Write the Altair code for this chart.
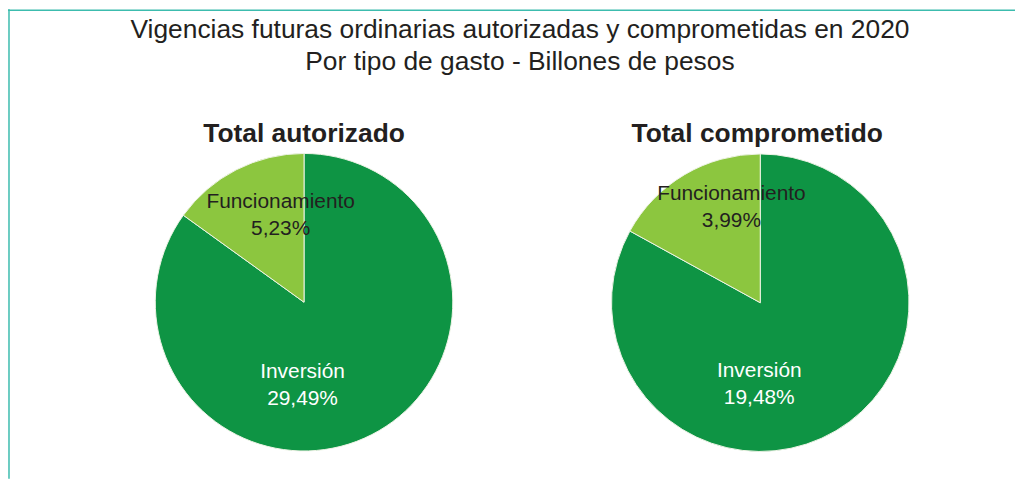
import altair as alt
import pandas as pd

# ---- data ----
paneles = ["Total autorizado", "Total autorizado", "Total comprometido", "Total comprometido"]
tipos = ["Inversión", "Funcionamiento", "Inversión", "Funcionamiento"]
valores = [29.49, 5.23, 19.48, 3.99]
orden = [1, 2, 1, 2]
titulo = ["Vigencias futuras ordinarias autorizadas y comprometidas en 2020",
          "Por tipo de gasto - Billones de pesos"]

df = pd.DataFrame({"panel": paneles, "tipo": tipos, "valor": valores, "orden": orden})
dummy = pd.DataFrame({"k": [0]})

FONT = "Liberation Sans"
W, H = 1012, 472
R = 149.5

color_scale = alt.Scale(domain=["Inversión", "Funcionamiento"], range=["#0e9444", "#8cc63f"])
base = alt.Chart(df)


def pie(panel, cx, cy):
    return base.transform_filter(alt.datum.panel == panel).mark_arc(
        radius=R, stroke="#eef3e6", strokeWidth=1
    ).encode(
        theta=alt.Theta("valor:Q", stack="normalize", scale=alt.Scale(domain=[0, 1])),
        color=alt.Color("tipo:N", scale=color_scale, legend=None),
        order=alt.Order("orden:Q"),
        x=alt.value(cx),
        y=alt.value(cy),
    )


def label(panel, tipo, x, y, color):
    return base.transform_filter(
        (alt.datum.panel == panel) & (alt.datum.tipo == tipo)
    ).transform_calculate(
        lab="datum.tipo + '\\n' + replace(format(datum.valor, '.2f'), '.', ',') + '%'"
    ).mark_text(
        font=FONT, fontSize=21, lineBreak="\n", lineHeight=27, color=color,
        align="center", baseline="middle"
    ).encode(x=alt.value(x), y=alt.value(y), text="lab:N")


def texto(t, x, y, size, weight="normal"):
    return alt.Chart(dummy).mark_text(
        text=t, font=FONT, fontSize=size, fontWeight=weight, color="#231f20",
        align="center", baseline="middle"
    ).encode(x=alt.value(x), y=alt.value(y))


teal = "#3cbcae"
frame_top = alt.Chart(dummy).mark_rule(color=teal, strokeWidth=1.5).encode(
    x=alt.value(0), x2=alt.value(W), y=alt.value(1))
frame_left = alt.Chart(dummy).mark_rule(color=teal, strokeWidth=1.5).encode(
    x=alt.value(1), y=alt.value(0), y2=alt.value(H))

chart = alt.layer(
    frame_top,
    frame_left,
    texto(titulo[0], 514.5, 21, 26.5),
    texto(titulo[1], 514.5, 53, 26.5),
    texto(paneles[0], 297.5, 125, 26.5, "bold"),
    texto(paneles[2], 753, 125, 26.5, "bold"),
    pie(paneles[0], 297.5, 294.5),
    pie(paneles[2], 756, 295),
    label(paneles[0], "Funcionamiento", 274, 194, "#231f20"),
    label(paneles[0], "Inversión", 296, 365, "white"),
    label(paneles[2], "Funcionamiento", 727, 186, "#231f20"),
    label(paneles[2], "Inversión", 755, 364, "white"),
).properties(
    width=W, height=H, autosize=alt.AutoSizeParams(type="none"), padding=0,
    background="white"
).configure_view(stroke=None)

chart.save("out.html", embed_options={"renderer": "svg", "actions": False})
